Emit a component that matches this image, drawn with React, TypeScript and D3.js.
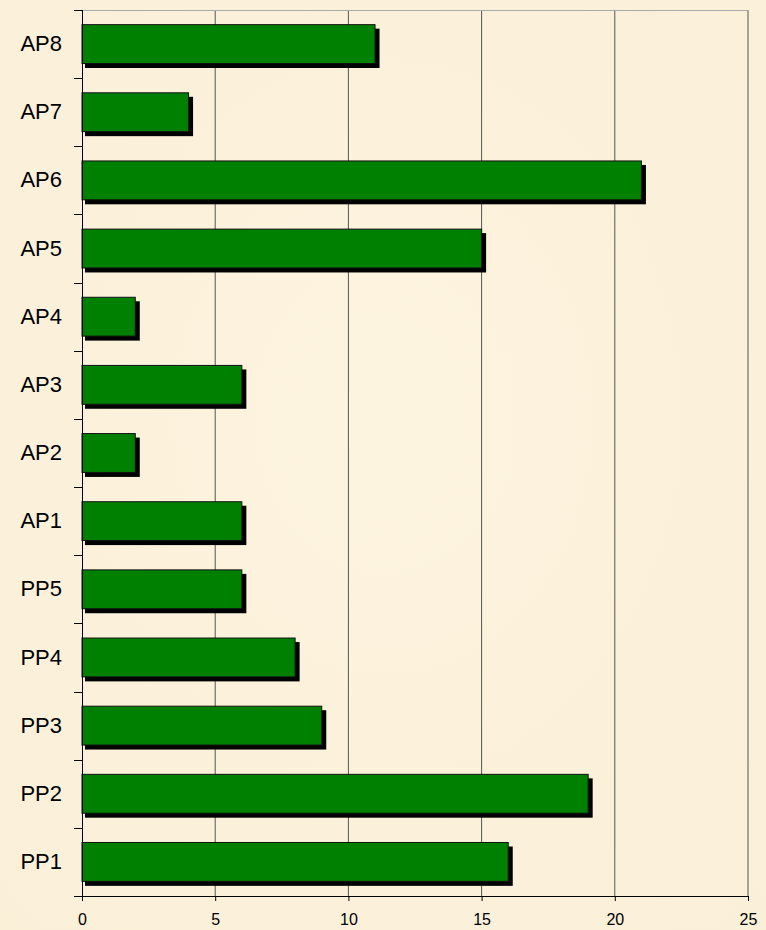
import * as d3 from "d3";
import React, { useEffect, useRef } from "react";

const categories = ["AP8", "AP7", "AP6", "AP5", "AP4", "AP3", "AP2", "AP1", "PP5", "PP4", "PP3", "PP2", "PP1"];
const values = [11, 4, 21, 15, 2, 6, 2, 6, 6, 8, 9, 19, 16];
const xTicks = [0, 5, 10, 15, 20, 25];

const svgWidth = 766;
const svgHeight = 930;

const App = () => {
  const ref = useRef<SVGSVGElement>(null);

  let margin = { top: 10, bottom: 34, left: 82, right: 18 };
  let width = svgWidth - margin.left - margin.right;
  let height = svgHeight - margin.top - margin.bottom;

  useEffect(() => {
    const root = d3.select(ref.current);
    root.selectAll("*").remove();

    // parchment-ish background
    const defs = root.append("defs");
    const grad = defs
      .append("radialGradient")
      .attr("id", "paper")
      .attr("cx", "50%")
      .attr("cy", "45%")
      .attr("r", "75%");
    grad.append("stop").attr("offset", "0%").attr("stop-color", "#fdf4e0");
    grad.append("stop").attr("offset", "100%").attr("stop-color", "#faefd7");

    root
      .append("rect")
      .attr("width", svgWidth)
      .attr("height", svgHeight)
      .attr("fill", "url(#paper)");

    let svg = root
      .append("g")
      .attr("transform", "translate(" + margin.left + "," + margin.top + ")");

    let x = d3.scaleLinear().domain([0, 25]).range([0, width]);
    let y = d3
      .scaleBand()
      .domain(categories)
      .range([0, height])
      .paddingInner(0.43)
      .paddingOuter(0.215);

    // vertical gridlines
    svg
      .selectAll(".grid")
      .data(xTicks.slice(1))
      .enter()
      .append("line")
      .attr("x1", (d) => x(d))
      .attr("x2", (d) => x(d))
      .attr("y1", 0)
      .attr("y2", height)
      .style("stroke", "#555")
      .style("stroke-width", 1);

    // top border
    svg
      .append("line")
      .attr("x1", 0)
      .attr("x2", width)
      .attr("y1", 0.5)
      .attr("y2", 0.5)
      .style("stroke", "#aaa")
      .style("stroke-width", 1);

    const data = categories.map((c, i) => ({ cat: c, val: values[i] }));

    // shadows
    svg
      .selectAll(".shadow")
      .data(data)
      .enter()
      .append("rect")
      .attr("x", 3)
      .attr("y", (d) => y(d.cat)! + 4)
      .attr("width", (d) => x(d.val) + 1.5)
      .attr("height", y.bandwidth() + 0.5)
      .attr("fill", "#000");

    // bars
    svg
      .selectAll(".bar")
      .data(data)
      .enter()
      .append("rect")
      .attr("x", 0)
      .attr("y", (d) => y(d.cat)!)
      .attr("width", (d) => x(d.val))
      .attr("height", y.bandwidth())
      .attr("fill", "#008000")
      .attr("stroke", "#111")
      .attr("stroke-width", 1);

    // y axis
    const yAxis = svg.append("g").call(d3.axisLeft(y).tickSize(0).tickPadding(20));
    yAxis.select(".domain").remove();
    yAxis
      .selectAll("text")
      .style("font-family", "Liberation Sans, Arial, sans-serif")
      .style("font-size", "22px")
      .attr("fill", "#000");

    // category boundary ticks
    const bounds = d3.range(categories.length + 1).map((i) => i * y.step() - y.step() * y.paddingInner() / 2 + y.step() * y.paddingOuter());
    svg
      .selectAll(".ytick")
      .data(bounds)
      .enter()
      .append("line")
      .attr("x1", -8)
      .attr("x2", 0)
      .attr("y1", (d) => Math.round(d) + 0.5)
      .attr("y2", (d) => Math.round(d) + 0.5)
      .style("stroke", "#000");

    svg
      .append("line")
      .attr("x1", 0.5)
      .attr("x2", 0.5)
      .attr("y1", 0)
      .attr("y2", height)
      .style("stroke", "#000");

    // x axis
    const xAxis = svg
      .append("g")
      .attr("transform", "translate(0," + height + ")")
      .call(d3.axisBottom(x).tickValues(xTicks).tickSize(5).tickPadding(13).tickSizeOuter(0));
    xAxis.select(".domain").style("stroke", "#000");
    xAxis.selectAll("line").style("stroke", "#000");
    xAxis
      .selectAll("text")
      .style("font-family", "Liberation Sans, Arial, sans-serif")
      .style("font-size", "16px")
      .attr("fill", "#000");
  }, []);

  return (
    <svg
      ref={ref}
      width={svgWidth}
      height={svgHeight}
      style={{ position: "absolute", left: 0, top: 0 }}
    ></svg>
  );
};

export default App;
